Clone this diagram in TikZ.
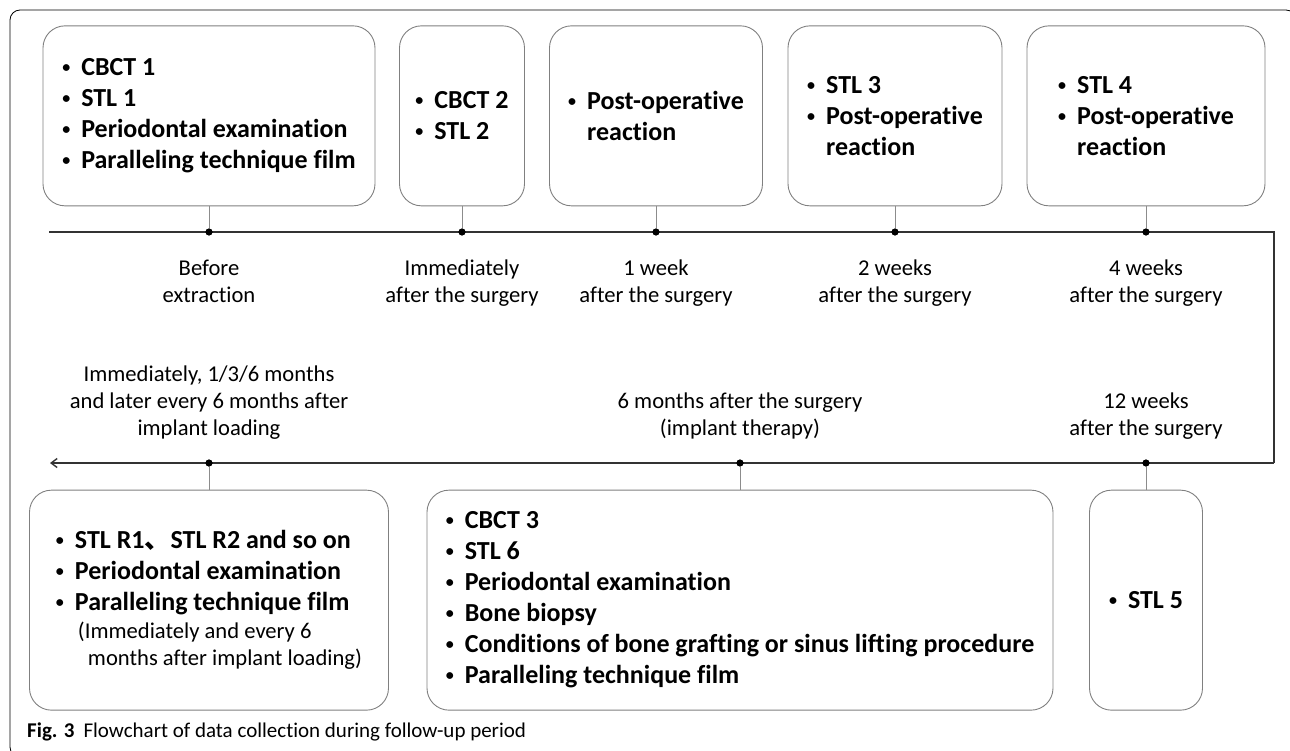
\documentclass[tikz,border=0pt]{standalone}
\usepackage{fontspec}
\setmainfont{Carlito}[Ligatures=NoCommon]
\newfontfamily\cjk{Noto Sans CJK SC}
\usetikzlibrary{positioning,arrows.meta}

\definecolor{boxgray}{HTML}{808080}
\definecolor{stubgray}{HTML}{8C8C8C}
\definecolor{linegray}{HTML}{333333}

\newcommand{\bul}{\makebox[19pt][l]{\raisebox{3pt}{\fontsize{16}{16}\selectfont •}}}
\newcommand{\ind}{\hspace*{19pt}}

\begin{document}
\begin{tikzpicture}[x=1pt,y=-1pt,
  box/.style={draw=boxgray, line width=0.9pt, rounded corners=22pt, minimum height=180pt,
    inner sep=0pt, align=left, font=\fontsize{26}{31}\selectfont\bfseries},
  lowbox/.style={box, minimum height=220pt},
  dot/.style={circle, fill=black, inner sep=0pt, minimum size=7pt},
  lbl/.style={align=center, inner sep=0pt, font=\fontsize{22.6}{27}\selectfont},
  stub/.style={draw=stubgray, line width=0.8pt},
  tline/.style={draw=linegray, line width=1.4pt}]

\useasboundingbox (0,0) rectangle (1290,751);
\clip (0,0) rectangle (1290,751);

% frame of the figure
\draw[line width=0.8pt, rounded corners=10pt] (10,10) rectangle (1296,757);

% time line
\coordinate (tstart) at (49,232);
\coordinate (tcorner) at (1274,232);
\coordinate (bcorner) at (1274,463);
\coordinate (tend) at (50,463);
\draw[tline] (tstart) -- (tcorner) -- (bcorner);
\draw[tline, -{Straight Barb[length=6pt,width=9pt]}] (bcorner) -- (tend);

% time points
\node[dot] (pre) at (209,232) {};
\node[dot] (imm) at (462,232) {};
\node[dot] (w1) at (656,232) {};
\node[dot] (w2) at (895,232) {};
\node[dot] (w4) at (1146,232) {};
\node[dot] (w12) at (1146,463) {};
\node[dot] (m6) at (740,463) {};
\node[dot] (load) at (209,463) {};

% boxes above the first line
\node[box, minimum width=332pt, above=22pt of pre] (bpre) {\bul CBCT 1\\ \bul STL 1\\ \bul Periodontal examination\\ \bul Paralleling technique film};
\node[box, minimum width=125pt, above=22pt of imm] (bimm) {\bul CBCT 2\\ \bul STL 2};
\node[box, minimum width=213pt, above=22pt of w1] (bw1) {\bul Post-operative\\ \ind reaction};
\node[box, minimum width=214pt, above=22pt of w2] (bw2) {\bul STL 3\\ \bul Post-operative\\ \ind reaction};
\node[box, minimum width=238pt, above=22pt of w4] (bw4) {\bul STL 4\\ \bul Post-operative\\ \ind reaction};

% boxes below the second line
\node[lowbox, minimum width=113pt, below=23pt of w12] (bw12) {\bul STL 5};
\node[lowbox, minimum width=626pt, below=23pt of m6] (bm6) {\bul CBCT 3\\ \bul STL 6\\ \bul Periodontal examination\\ \bul Bone biopsy\\ \bul Conditions of bone grafting or sinus lifting procedure\\ \bul Paralleling technique film};
\node[lowbox, minimum width=359pt, below=23pt of load] (bload) {\bul STL R1{\cjk 、}STL R2 and so on\\ \bul Periodontal examination\\ \bul Paralleling technique film\\[-3pt]
  {\mdseries\fontsize{22.6}{27}\selectfont\hspace*{22pt}(Immediately and every 6}\\[-4pt]
  {\mdseries\fontsize{22.6}{27}\selectfont\hspace*{32pt}months after implant loading)}};

% stubs
\draw[stub] (bpre) -- (pre);
\draw[stub] (bimm) -- (imm);
\draw[stub] (bw1) -- (w1);
\draw[stub] (bw2) -- (w2);
\draw[stub] (bw4) -- (w4);
\draw[stub] (bw12) -- (w12);
\draw[stub] (bm6) -- (m6);
\draw[stub] (bload) -- (load);
\foreach \p in {pre,imm,w1,w2,w4,w12,m6,load}
  \node[dot] at (\p) {};

% time labels
\node[lbl, below=24pt of pre] (lpre) {Before\\extraction};
\node[lbl, below=24pt of imm] (limm) {Immediately\\after the surgery};
\node[lbl, below=24pt of w1] (lw1) {1 week\\after the surgery};
\node[lbl, below=24pt of w2] (lw2) {2 weeks\\after the surgery};
\node[lbl, below=24pt of w4] (lw4) {4 weeks\\after the surgery};
\node[lbl, above=20pt of w12] (lw12) {12 weeks\\after the surgery};
\node[lbl, above=20pt of m6] (lm6) {6 months after the surgery\\(implant therapy)};
\node[lbl, above=20pt of load] (lload) {Immediately, 1/3/6 months\\and later every 6 months after\\implant loading};

% caption
\node[anchor=base west, inner sep=0pt, font=\fontsize{21}{24}\selectfont] (cap) at (27,737)
  {\textbf{Fig. 3}\hspace{9pt}Flowchart of data collection during follow-up period};

\end{tikzpicture}
\end{document}
